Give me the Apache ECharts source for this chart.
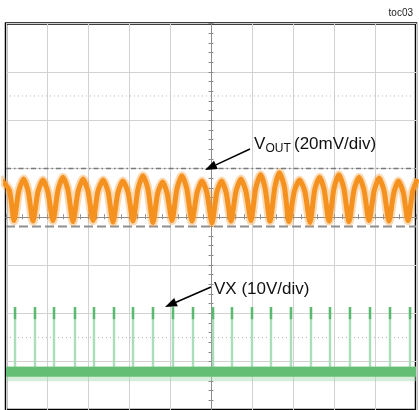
<!DOCTYPE html>
<html>
<head>
<meta charset="utf-8">
<script src="https://cdn.jsdelivr.net/npm/echarts@6/dist/echarts.min.js"></script>
<style>
html,body{margin:0;padding:0;background:#fff;}
#c{width:419px;height:410px;}
</style>
</head>
<body>
<div id="c"></div>
<script>
// Screen divisions (scope graticule): 10 horizontal x 8 vertical, centred on 0
const xRange = [-5, 5];
const yRange = [-4, 4];

// VOUT ripple trace (divisions): trough / shoulder / peak vertices
const voutTrace = [
  [-5.16,0.80],[-4.92,0.55],[-4.805,-0.08],
  [-4.69,0.53],[-4.57,0.78],[-4.46,0.53],[-4.341,-0.09],
  [-4.22,0.52],[-4.10,0.76],[-3.98,0.52],[-3.854,-0.08],
  [-3.73,0.56],[-3.61,0.82],[-3.49,0.56],[-3.366,-0.10],
  [-3.24,0.53],[-3.12,0.78],[-3.00,0.53],[-2.878,-0.08],
  [-2.76,0.52],[-2.63,0.76],[-2.51,0.52],[-2.390,-0.11],
  [-2.27,0.50],[-2.15,0.74],[-2.02,0.50],[-1.902,-0.09],
  [-1.78,0.58],[-1.66,0.85],[-1.54,0.58],[-1.415,-0.12],
  [-1.30,0.49],[-1.18,0.72],[-1.07,0.49],[-0.951,-0.08],
  [-0.83,0.58],[-0.71,0.85],[-0.59,0.58],[-0.463,-0.09],
  [-0.34,0.50],[-0.22,0.74],[-0.10,0.50],[0.024,-0.13],
  [0.14,0.50],[0.26,0.74],[0.37,0.50],[0.488,-0.09],
  [0.61,0.53],[0.73,0.78],[0.85,0.53],[0.976,-0.08],
  [1.09,0.59],[1.21,0.87],[1.32,0.59],[1.439,-0.09],
  [1.56,0.62],[1.67,0.91],[1.79,0.62],[1.902,-0.10],
  [2.03,0.52],[2.16,0.76],[2.29,0.52],[2.415,-0.12],
  [2.53,0.56],[2.65,0.82],[2.76,0.56],[2.878,-0.09],
  [3.00,0.59],[3.12,0.87],[3.24,0.59],[3.366,-0.10],
  [3.49,0.56],[3.61,0.82],[3.73,0.56],[3.854,-0.08],
  [3.98,0.54],[4.10,0.80],[4.22,0.54],[4.341,-0.09],
  [4.46,0.50],[4.57,0.74],[4.69,0.50],[4.805,-0.08],
  [4.92,0.53],[5.04,0.78]
];

// VX switching node: baseline level and spike positions (divisions)
const vxBase = -3.21;
const vxSpikeTop = -1.87;
const vxSpikeX = [-4.780,-4.293,-3.829,-3.317,-2.854,-2.366,-1.902,-1.415,-0.927,-0.439,
                  0.049,0.512,1.000,1.463,1.951,2.439,2.902,3.390,3.878,4.366,4.854];

// Cursor / reference levels (divisions)
const dashDotLevel = 1.0;
const dashedLevel = -0.2;
const dottedLevels = [2.5, -2.5];

const chart = echarts.init(document.getElementById('c'), null, {renderer:'canvas'});

const axisGrey = '#8c8c8c';
function xAx(pos){
  return {
    type:'value', min:xRange[0], max:xRange[1], interval:1, position:pos,
    axisLine:{show:true, onZero:true, onZeroAxisIndex:0, lineStyle:{color:axisGrey, width:1}},
    axisTick:{show:true, length:2.5, lineStyle:{color:axisGrey}},
    minorTick:{show:true, splitNumber:5, length:2.5, lineStyle:{color:axisGrey}},
    axisLabel:{show:false},
    splitLine:{show:pos==='bottom', lineStyle:{color:'#d2d2d2', width:1}},
    minorSplitLine:{show:false}
  };
}
function yAx(pos){
  return {
    type:'value', min:yRange[0], max:yRange[1], interval:1, position:pos,
    axisLine:{show:true, onZero:true, onZeroAxisIndex:0, lineStyle:{color:axisGrey, width:1}},
    axisTick:{show:true, length:2.5, lineStyle:{color:axisGrey}},
    minorTick:{show:true, splitNumber:5, length:2.5, lineStyle:{color:axisGrey}},
    axisLabel:{show:false},
    splitLine:{show:pos==='left', lineStyle:{color:'#d2d2d2', width:1}},
    minorSplitLine:{show:false}
  };
}

function levelLine(y, style){
  return {type:'line', data:[[xRange[0], y],[xRange[1], y]], symbol:'none', silent:true,
          lineStyle:style, z:1, animation:false};
}

const series = [];
dottedLevels.forEach(function(l){
  series.push(levelLine(l, {color:'#b8b8b8', width:1, type:[1,3]}));
});
series.push(levelLine(dashDotLevel, {color:'#7a7a7a', width:1.5, type:[5,3,1.5,3]}));
series.push(levelLine(dashedLevel, {color:'#8f8f8f', width:2, type:[9,4]}));

// VOUT halo + core
series.push({type:'line', data:voutTrace, symbol:'none', smooth:0.22, silent:true, animation:false,
  lineStyle:{color:'rgba(247,150,40,0.35)', width:9}, z:3});
series.push({type:'line', data:voutTrace, symbol:'none', smooth:0.22, silent:true, animation:false,
  lineStyle:{color:'#f5911f', width:5}, z:4});

// VX spikes
series.push({
  type:'custom', silent:true, animation:false, z:3,
  data: vxSpikeX.map(function(x){ return [x, vxBase, vxSpikeTop]; }),
  renderItem:function(params, api){
    const x = api.value(0);
    const pb = api.coord([x, api.value(1)]);
    const pt = api.coord([x, api.value(2)]);
    const pd = api.coord([x, api.value(2) - 0.25]);
    return {type:'group', children:[
      {type:'line', shape:{x1:pb[0], y1:pb[1], x2:pt[0], y2:pt[1]}, style:{stroke:'#aadeb8', lineWidth:2.4}},
      {type:'line', shape:{x1:pt[0], y1:pt[1], x2:pd[0], y2:pd[1]}, style:{stroke:'#5aba6f', lineWidth:2.4}}
    ]};
  }
});
// VX baseline halo + core
series.push({type:'line', data:[[xRange[0], vxBase - 0.04],[xRange[1], vxBase - 0.04]], symbol:'none', silent:true, animation:false,
  lineStyle:{color:'rgba(160,218,170,0.45)', width:15}, z:4});
series.push({type:'line', data:[[xRange[0], vxBase],[xRange[1], vxBase]], symbol:'none', silent:true, animation:false,
  lineStyle:{color:'#64bf74', width:10}, z:5});

const font = '"Liberation Sans", Arial, sans-serif';
chart.setOption({
  backgroundColor:'#fff',
  animation:false,
  grid:{left:6, top:23.5, width:410, height:388, show:true, borderColor:'#000', borderWidth:2.5, backgroundColor:'#fff', containLabel:false},
  xAxis:[xAx('bottom'), xAx('top')],
  yAxis:[yAx('left'), yAx('right')],
  series:series,
  graphic:[
    {type:'text', x:413, y:13.5, z:100, style:{text:'toc03', fontSize:10, fontFamily:font, fill:'#222', align:'right', verticalAlign:'middle'}},
    // VOUT label
    {type:'text', x:254, y:144.5, z:100, style:{text:'V', fontSize:17, fontFamily:font, fill:'#111', align:'left', verticalAlign:'middle'}},
    {type:'text', x:265.5, y:149, z:100, style:{text:'OUT', fontSize:12, fontFamily:font, fill:'#111', align:'left', verticalAlign:'middle'}},
    {type:'text', x:294, y:144.5, z:100, style:{text:'(20mV/div)', fontSize:17, fontFamily:font, fill:'#111', align:'left', verticalAlign:'middle'}},
    {type:'line', z:100, shape:{x1:250, y1:149, x2:215.9, y2:164.9}, style:{stroke:'#000', lineWidth:1.5}},
    {type:'polygon', z:100, shape:{points:[[205,170],[217.8,169.0],[214.0,160.8]]}, style:{fill:'#000'}},
    // VX label
    {type:'text', x:214, y:289, z:100, style:{text:'VX (10V/div)', fontSize:17, fontFamily:font, fill:'#111', align:'left', verticalAlign:'middle'}},
    {type:'line', z:100, shape:{x1:211, y1:287, x2:176.0, y2:302.2}, style:{stroke:'#000', lineWidth:1.5}},
    {type:'polygon', z:100, shape:{points:[[165,307],[177.8,306.3],[174.2,298.1]]}, style:{fill:'#000'}}
  ]
});
</script>
</body>
</html>
